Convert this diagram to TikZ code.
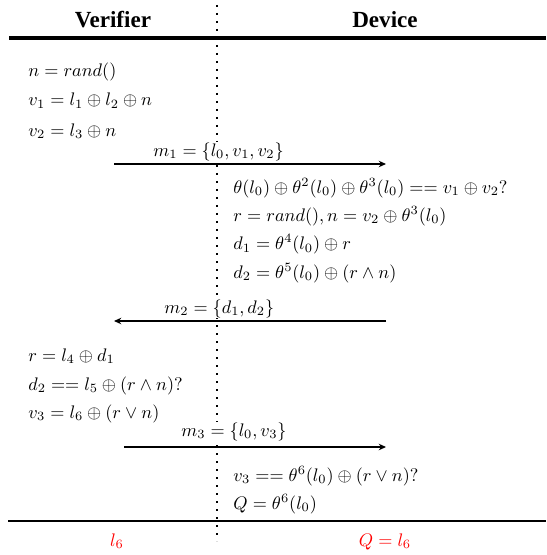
\documentclass[tikz,border=0pt]{standalone}
\usepackage{fontspec}
\newfontfamily\headfont{Liberation Serif}
\usetikzlibrary{arrows.meta}
\begin{document}
\begin{tikzpicture}[x=0.55pt,y=-0.55pt,
  lbl/.style={anchor=base west, inner sep=0pt},
  hdr/.style={anchor=base, inner sep=0pt, font=\headfont\bfseries\fontsize{12.7}{15}\selectfont},
  msg/.style={-{Stealth[length=4pt,width=3.6pt]}, line width=0.6pt},
  res/.style={anchor=base, inner sep=0pt, text=red},
  dots/.style={line width=1.1pt, dash pattern=on 1.1pt off 3.3pt}]
\useasboundingbox (0,0) rectangle (546,555);
% dotted separator (behind everything)
\coordinate (s1) at (217,5); \coordinate (s2) at (217,541);
\draw[dots] (s1) -- (s2);
% headers
\node[hdr] (hv) at (113,27.5) {Verifier};
\node[hdr] (hd) at (385,27.5) {Device};
% rules
\coordinate (t1) at (9,38); \coordinate (t2) at (546,38);
\draw[line width=2.2pt] (t1) -- (t2);
\coordinate (b1) at (8,521); \coordinate (b2) at (546,521);
\draw[line width=1.5pt] (b1) -- (b2);
% verifier step 1
\node[lbl] (v1) at (28,76) {$n = rand()$};
\node[lbl] (v2) at (28,106) {$v_1 = l_1 \oplus l_2 \oplus n$};
\node[lbl] (v3) at (28,136) {$v_2 = l_3 \oplus n$};
% message 1
\node[lbl, fill=white] (m1) at (153,156) {$m_1 = \{l_0, v_1, v_2\}$};
\coordinate (a1s) at (114,164); \coordinate (a1e) at (386,164);
\draw[msg] (a1s) -- (a1e);
% device step 1
\node[lbl] (d1) at (233,193) {$\theta(l_0) \oplus \theta^2(l_0) \oplus \theta^3(l_0) == v_1 \oplus v_2?$};
\node[lbl] (d2) at (233,221) {$r = rand(), n = v_2 \oplus \theta^3(l_0)$};
\node[lbl] (d3) at (233,249.5) {$d_1 = \theta^4(l_0) \oplus r$};
\node[lbl] (d4) at (233,278) {$d_2 = \theta^5(l_0) \oplus (r \wedge n)$};
% message 2
\node[lbl, fill=white] (m2) at (164,313) {$m_2 = \{d_1, d_2\}$};
\coordinate (a2s) at (386,321); \coordinate (a2e) at (114,321);
\draw[msg] (a2s) -- (a2e);
% verifier step 2
\node[lbl] (v4) at (28,361) {$r = l_4 \oplus d_1$};
\node[lbl] (v5) at (28,390) {$d_2 == l_5 \oplus (r \wedge n)?$};
\node[lbl] (v6) at (28,418) {$v_3 = l_6 \oplus (r \vee n)$};
% message 3
\node[lbl, fill=white] (m3) at (181,436) {$m_3 = \{l_0, v_3\}$};
\coordinate (a3s) at (124,447); \coordinate (a3e) at (386,447);
\draw[msg] (a3s) -- (a3e);
% device step 2
\node[lbl] (d5) at (233,481) {$v_3 == \theta^6(l_0) \oplus (r \vee n)?$};
\node[lbl] (d6) at (233,509) {$Q = \theta^6(l_0)$};
% results
\node[res] (rv) at (117,546) {$l_6$};
\node[res] (rd) at (385,546) {$Q = l_6$};
\end{tikzpicture}
\end{document}
